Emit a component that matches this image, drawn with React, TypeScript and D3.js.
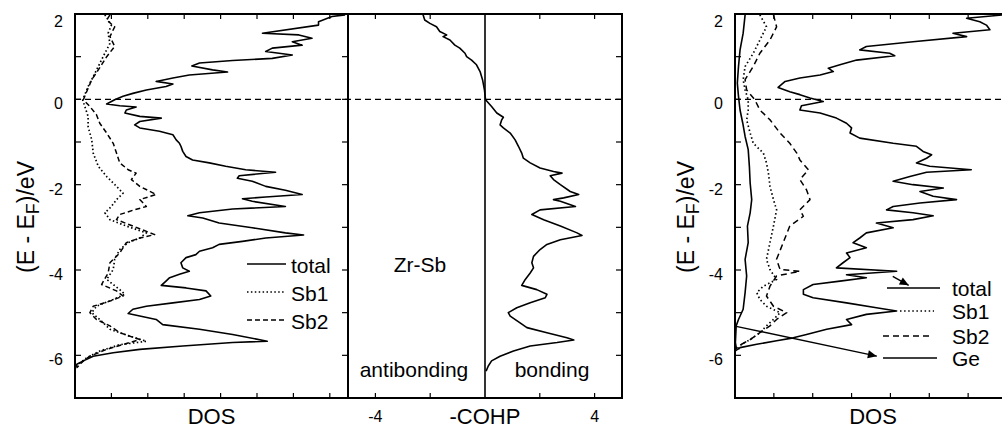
import React, { useEffect, useRef } from 'react';
import * as d3 from 'd3';

// every point is [E - EF (eV), value]
type Pt = [number, number];

const leftTotal: Pt[] = [
  [1.98, 7.42], [1.94, 7.06], [1.82, 6.69], [1.74, 6.69], [1.55, 5.15], [1.51, 6.15], [1.43, 6.51],
  [1.35, 5.97], [1.27, 6.24], [1.2, 5.42], [1.12, 5.24], [1.04, 5.97], [0.96, 5.42], [0.91, 4.33],
  [0.85, 3.42], [0.78, 3.21], [0.69, 3.78], [0.64, 4.19], [0.57, 3.14], [0.5, 2.69], [0.42, 2.23],
  [0.36, 2.69], [0.3, 2.5], [0.22, 1.96], [0.14, 1.59], [0.07, 1.32], [-0.01, 1.09], [-0.11, 0.87],
  [-0.15, 1.23], [-0.18, 1.68], [-0.25, 1.41], [-0.32, 1.37], [-0.4, 1.78], [-0.44, 2.37], [-0.52, 1.78],
  [-0.6, 1.64], [-0.67, 1.78], [-0.75, 2.32], [-0.83, 2.69], [-0.95, 2.78], [-1.03, 2.87], [-1.1, 2.91],
  [-1.22, 2.96], [-1.34, 3.05], [-1.42, 3.23], [-1.49, 3.69], [-1.57, 4.14], [-1.65, 4.69], [-1.71, 5.51],
  [-1.79, 4.51], [-1.85, 4.46], [-1.92, 4.87], [-2.04, 5.24], [-2.13, 5.78], [-2.23, 6.24], [-2.29, 5.24],
  [-2.33, 4.6], [-2.39, 4.87], [-2.51, 5.78], [-2.57, 4.33], [-2.66, 3.42], [-2.73, 3.1], [-2.78, 3.51],
  [-2.9, 3.96], [-3.01, 4.87], [-3.13, 5.78], [-3.18, 6.28], [-3.25, 5.24], [-3.33, 4.6], [-3.4, 3.96],
  [-3.48, 3.78], [-3.56, 3.42], [-3.64, 3.32], [-3.71, 3.05], [-3.83, 2.91], [-3.95, 2.96], [-4.03, 3.14],
  [-4.1, 2.87], [-4.18, 2.6], [-4.26, 2.5], [-4.36, 2.37], [-4.42, 3.05], [-4.49, 3.6], [-4.61, 3.73],
  [-4.69, 3.42], [-4.77, 2.69], [-4.85, 1.96], [-4.92, 1.59], [-5.02, 1.46], [-5.08, 1.78], [-5.16, 2.23],
  [-5.28, 2.41], [-5.39, 3.42], [-5.51, 4.33], [-5.67, 5.28], [-5.7, 4.33], [-5.78, 2.96], [-5.86, 1.78],
  [-5.94, 1.05], [-6.02, 0.5], [-6.13, 0.23], [-6.21, 0.05], [-6.33, 0],
];

const leftSb1: Pt[] = [
  [1.98, 0.82], [1.74, 1.0], [1.55, 0.91], [1.31, 0.96], [1.08, 0.82], [0.77, 0.64], [0.53, 0.5],
  [0.3, 0.36], [0.11, 0.27], [-0.01, 0.21], [-0.17, 0.27], [-0.4, 0.36], [-0.64, 0.36], [-0.95, 0.46],
  [-1.26, 0.5], [-1.57, 0.64], [-1.81, 0.87], [-2.04, 1.14], [-2.2, 1.32], [-2.35, 1.14], [-2.51, 1.0],
  [-2.66, 0.82], [-2.82, 0.96], [-2.97, 1.41], [-3.13, 1.96], [-3.25, 1.78], [-3.36, 1.46], [-3.52, 1.23],
  [-3.75, 1.09], [-3.99, 1.05], [-4.22, 0.87], [-4.46, 1.23], [-4.57, 1.37], [-4.69, 1.05], [-4.85, 0.59],
  [-5.0, 0.46], [-5.16, 0.68], [-5.39, 0.96], [-5.55, 1.5], [-5.67, 1.96], [-5.75, 1.23], [-5.9, 0.68],
  [-6.06, 0.32], [-6.21, 0.09], [-6.33, 0],
];

const leftSb2: Pt[] = [
  [1.98, 0.96], [1.86, 0.87], [1.7, 1.09], [1.47, 0.96], [1.24, 1.09], [1.0, 0.87], [0.69, 0.64],
  [0.46, 0.46], [0.22, 0.34], [-0.01, 0.23], [-0.17, 0.41], [-0.36, 0.59], [-0.56, 0.68], [-0.79, 0.87],
  [-1.03, 1.05], [-1.26, 1.14], [-1.49, 1.23], [-1.65, 1.46], [-1.73, 1.68], [-1.88, 1.55], [-2.04, 1.78],
  [-2.23, 2.23], [-2.35, 1.78], [-2.51, 1.96], [-2.6, 1.59], [-2.7, 1.23], [-2.82, 1.14], [-2.97, 1.59],
  [-3.17, 2.19], [-3.25, 1.78], [-3.36, 1.41], [-3.6, 1.23], [-3.83, 0.96], [-4.07, 0.91], [-4.34, 0.73],
  [-4.49, 1.14], [-4.61, 1.32], [-4.73, 0.96], [-4.85, 0.5], [-5.0, 0.41], [-5.16, 0.59], [-5.31, 0.96],
  [-5.47, 1.23], [-5.63, 1.78], [-5.7, 1.5], [-5.86, 0.87], [-6.02, 0.41], [-6.13, 0.23], [-6.29, 0.05],
];

const cohpZrSb: Pt[] = [
  [1.98, -2.26], [1.86, -2.2], [1.78, -2.01], [1.7, -1.77], [1.59, -1.65], [1.51, -1.4], [1.47, -1.53],
  [1.39, -1.28], [1.27, -1.1], [1.2, -0.92], [1.08, -0.73], [1.0, -0.67], [0.92, -0.49], [0.81, -0.31],
  [0.65, -0.18], [0.46, -0.09], [0.22, -0.02], [-0.01, 0.02], [-0.17, 0.24], [-0.32, 0.43], [-0.42, 0.67],
  [-0.48, 0.61], [-0.6, 0.55], [-0.67, 0.67], [-0.79, 0.92], [-0.95, 1.1], [-1.1, 1.22], [-1.26, 1.34],
  [-1.38, 1.4], [-1.49, 1.65], [-1.61, 2.01], [-1.69, 2.5], [-1.73, 2.81], [-1.79, 2.38], [-1.88, 2.5],
  [-2.0, 2.75], [-2.16, 3.11], [-2.23, 3.42], [-2.31, 2.87], [-2.35, 2.5], [-2.39, 2.75], [-2.51, 3.3],
  [-2.59, 2.01], [-2.7, 1.71], [-2.82, 2.14], [-2.97, 2.75], [-3.13, 3.36], [-3.19, 3.54], [-3.29, 2.75],
  [-3.4, 2.26], [-3.52, 2.01], [-3.68, 1.77], [-3.83, 1.71], [-3.95, 1.77], [-4.07, 1.65], [-4.22, 1.47],
  [-4.36, 1.34], [-4.46, 1.89], [-4.57, 2.26], [-4.65, 2.2], [-4.77, 1.65], [-4.885, 1.16], [-5.0, 0.85],
  [-5.08, 0.92], [-5.24, 1.28], [-5.35, 1.53], [-5.47, 2.26], [-5.59, 2.99], [-5.64, 3.24], [-5.7, 2.63],
  [-5.78, 1.65], [-5.9, 1.04], [-6.02, 0.55], [-6.13, 0.24], [-6.25, 0.12], [-6.37, 0.04],
];

const rightTotal: Pt[] = [
  [1.98, 6.9], [1.9, 5.96], [1.82, 6.3], [1.74, 6.47], [1.63, 6.56], [1.55, 5.61], [1.47, 5.96],
  [1.35, 4.58], [1.24, 3.38], [1.16, 3.21], [1.08, 3.98], [1.02, 4.11], [0.92, 3.13], [0.81, 2.7],
  [0.73, 2.4], [0.65, 2.53], [0.57, 2.19], [0.5, 1.67], [0.42, 1.29], [0.28, 1.11], [0.18, 1.41],
  [0.11, 1.67], [0.03, 1.93], [-0.05, 2.27], [-0.15, 1.71], [-0.25, 1.67], [-0.32, 2.19], [-0.44, 2.61],
  [-0.56, 2.87], [-0.67, 3.0], [-0.79, 2.96], [-0.91, 3.21], [-1.03, 4.07], [-1.1, 4.67], [-1.22, 4.84],
  [-1.3, 5.06], [-1.38, 4.93], [-1.49, 4.67], [-1.57, 5.01], [-1.65, 6.08], [-1.71, 4.93], [-1.81, 4.5],
  [-1.92, 4.07], [-2.0, 4.58], [-2.08, 5.36], [-2.16, 4.76], [-2.27, 5.1], [-2.35, 5.7], [-2.43, 4.76],
  [-2.51, 4.07], [-2.59, 3.9], [-2.66, 4.58], [-2.73, 5.1], [-2.82, 4.58], [-2.9, 3.64], [-3.01, 4.07],
  [-3.13, 3.38], [-3.25, 3.21], [-3.36, 3.04], [-3.48, 3.38], [-3.6, 2.87], [-3.71, 2.96], [-3.83, 2.78],
  [-3.95, 2.61], [-4.03, 4.16], [-4.11, 2.87], [-4.18, 3.38], [-4.26, 2.7], [-4.34, 2.01], [-4.46, 1.76],
  [-4.57, 1.76], [-4.65, 2.01], [-4.77, 2.87], [-4.885, 3.64], [-4.96, 4.16], [-5.04, 3.38], [-5.16, 2.87],
  [-5.28, 3.0], [-5.39, 2.36], [-5.51, 1.84], [-5.59, 1.5], [-5.66, 1.07], [-5.74, 0.56], [-5.82, 0.13],
  [-5.9, 0],
];

const rightSb1: Pt[] = [
  [1.98, 0.64], [1.7, 0.81], [1.39, 0.64], [1.08, 0.47], [0.77, 0.26], [0.46, 0.21], [0.22, 0.26],
  [-0.01, 0.34], [-0.25, 0.34], [-0.48, 0.3], [-0.79, 0.39], [-1.03, 0.47], [-1.26, 0.73], [-1.49, 0.81],
  [-1.73, 0.86], [-2.04, 0.9], [-2.35, 0.99], [-2.59, 1.07], [-2.97, 0.99], [-3.36, 0.9], [-3.75, 0.81],
  [-3.99, 0.9], [-4.22, 1.07], [-4.38, 0.73], [-4.53, 0.56], [-4.69, 0.64], [-4.85, 0.81], [-5.0, 1.16],
  [-5.16, 0.99], [-5.31, 0.81], [-5.47, 0.64], [-5.63, 0.39], [-5.74, 0.17], [-5.86, 0.04],
];

const rightSb2: Pt[] = [
  [1.98, 0.99], [1.7, 1.07], [1.39, 0.9], [1.08, 0.64], [0.77, 0.47], [0.46, 0.26], [0.22, 0.3],
  [-0.01, 0.51], [-0.25, 0.64], [-0.48, 0.9], [-0.79, 1.16], [-1.03, 1.41], [-1.26, 1.59], [-1.42, 1.67],
  [-1.65, 1.89], [-1.88, 1.67], [-2.12, 1.84], [-2.35, 1.93], [-2.59, 1.67], [-2.74, 1.76], [-2.97, 1.41],
  [-3.36, 1.24], [-3.75, 1.07], [-3.99, 1.16], [-4.03, 1.67], [-4.14, 1.07], [-4.38, 0.9], [-4.61, 0.81],
  [-4.85, 0.99], [-5.0, 1.33], [-5.16, 1.07], [-5.31, 0.9], [-5.47, 0.64], [-5.63, 0.39], [-5.74, 0.17],
  [-5.86, 0.09],
];

const rightGe: Pt[] = [
  [1.98, 0.26], [1.55, 0.21], [1.16, 0.13], [0.77, 0.09], [0.38, 0.06], [0.07, 0.09], [-0.25, 0.13],
  [-0.56, 0.2], [-0.87, 0.26], [-1.18, 0.34], [-1.57, 0.37], [-1.96, 0.39], [-2.35, 0.43], [-2.66, 0.39],
  [-2.97, 0.32], [-3.36, 0.34], [-3.75, 0.26], [-4.14, 0.3], [-4.53, 0.26], [-4.92, 0.21], [-5.16, 0.09],
  [-5.31, 0.03], [-5.7, 0.01], [-5.86, 0.04],
];

// annotation arrows in the right panel: [E, DOS] start -> end
const arrowsRight: [Pt, Pt][] = [
  [[-4.15, 4.06], [-4.36, 4.47]],
  [[-5.32, 0.03], [-6.02, 3.65]],
];

const energyTicks = [-6, -5, -4, -3, -2, -1, 0, 1];
const energyLabels = [2, 0, -2, -4, -6];
const dosTicksLeft = [1, 2, 3, 4, 5, 6, 7];
const dosTicksRight = [1, 2, 3, 4, 5, 6];
const cohpTicks = [-4, -2, 2, 4];
const cohpLabels = [-4, 4];

const FONT = 'Arial, "Liberation Sans", Helvetica, sans-serif';

const App = () => {
  const ref = useRef<SVGSVGElement>(null);

  useEffect(() => {
    const svg = d3.select(ref.current);
    svg.selectAll('*').remove();

    const top = 14;
    const bottom = 398;
    const y = d3.scaleLinear().domain([-7, 2]).range([bottom, top]);
    const xL = d3.scaleLinear().domain([0, 7.5]).range([75, 348]);
    const xM = d3.scaleLinear().domain([-5, 5]).range([348, 622]);
    const xR = d3.scaleLinear().domain([0, 7]).range([735, 1007]);

    svg.append('defs')
      .append('marker')
      .attr('id', 'arrowhead')
      .attr('viewBox', '0 0 10 10')
      .attr('refX', 10)
      .attr('refY', 5)
      .attr('markerWidth', 10)
      .attr('markerHeight', 9)
      .attr('markerUnits', 'userSpaceOnUse')
      .attr('orient', 'auto')
      .append('path')
      .attr('d', 'M0,0.5L10,5L0,9.5Z')
      .attr('fill', '#000');

    const frame = (x: d3.ScaleLinear<number, number>, xticks: number[], leftTicks: boolean, rightTicks: boolean) => {
      const [x0, x1] = x.range();
      const g = svg.append('g');
      g.append('rect')
        .attr('x', x0).attr('y', top)
        .attr('width', x1 - x0).attr('height', bottom - top)
        .attr('fill', 'none').attr('stroke', '#000').attr('stroke-width', 2);
      xticks.forEach(t => {
        g.append('line').attr('x1', x(t)).attr('x2', x(t)).attr('y1', bottom).attr('y2', bottom - 5)
          .attr('stroke', '#000').attr('stroke-width', 1.2);
        g.append('line').attr('x1', x(t)).attr('x2', x(t)).attr('y1', top).attr('y2', top + 5)
          .attr('stroke', '#000').attr('stroke-width', 1.2);
      });
      energyTicks.forEach(t => {
        if (leftTicks) g.append('line').attr('x1', x0).attr('x2', x0 + 6).attr('y1', y(t)).attr('y2', y(t))
          .attr('stroke', '#000').attr('stroke-width', 1.2);
        if (rightTicks) g.append('line').attr('x1', x1).attr('x2', x1 - 6).attr('y1', y(t)).attr('y2', y(t))
          .attr('stroke', '#000').attr('stroke-width', 1.2);
      });
    };

    frame(xL, dosTicksLeft, true, true);
    frame(xM, cohpTicks, false, true);
    frame(xR, dosTicksRight, true, false);

    // Fermi level
    [[75, 622], [735, 1002]].forEach(([a, b]) => {
      svg.append('line').attr('x1', a).attr('x2', b).attr('y1', y(0)).attr('y2', y(0))
        .attr('stroke', '#000').attr('stroke-width', 1.3).attr('stroke-dasharray', '6,4');
    });
    svg.append('line').attr('x1', xM(0)).attr('x2', xM(0)).attr('y1', top).attr('y2', bottom)
      .attr('stroke', '#000').attr('stroke-width', 1.6);

    const curve = (x: d3.ScaleLinear<number, number>, data: Pt[], dash: string | null, width = 1.5) => {
      const line = d3.line<Pt>().x(d => x(d[1])).y(d => y(d[0]));
      svg.append('path')
        .attr('d', line(data))
        .attr('fill', 'none')
        .attr('stroke', '#000')
        .attr('stroke-width', width)
        .attr('stroke-linejoin', 'round')
        .attr('stroke-dasharray', dash);
    };

    curve(xL, leftSb1, '1.5,2.4', 1.7);
    curve(xL, leftSb2, '5,3');
    curve(xL, leftTotal, null, 1.6);
    curve(xM, cohpZrSb, null, 1.6);
    curve(xR, rightGe, null, 1.6);
    curve(xR, rightSb1, '1.5,2.6', 1.7);
    curve(xR, rightSb2, '6,4');
    curve(xR, rightTotal, null, 1.6);

    arrowsRight.forEach(([s, e]) => {
      svg.append('line')
        .attr('x1', xR(s[1])).attr('y1', y(s[0]))
        .attr('x2', xR(e[1])).attr('y2', y(e[0]))
        .attr('stroke', '#000').attr('stroke-width', 1.4)
        .attr('marker-end', 'url(#arrowhead)');
    });

    const text = (x: number, yy: number, s: string, size: number, anchor = 'middle') =>
      svg.append('text')
        .attr('x', x).attr('y', yy)
        .attr('text-anchor', anchor)
        .style('font-family', FONT)
        .style('font-size', `${size}px`)
        .text(s);

    // energy tick labels
    [63, 723].forEach(xx => {
      energyLabels.forEach(v => {
        const yy = v === 2 ? y(v) + 13 : y(v) + 10;
        text(xx, yy, String(v), 16, 'end');
      });
    });
    cohpLabels.forEach(v => text(xM(v), 422, String(v), 16));

    // axis titles
    text(xL(3.75), 424, 'DOS', 22);
    text(873, 424, 'DOS', 22);
    text(xM(0), 424, '-COHP', 22);
    [26, 686].forEach(xx => {
      const t = svg.append('text')
        .attr('transform', `translate(${xx},217) rotate(-90)`)
        .attr('text-anchor', 'middle')
        .attr('dy', '0.35em')
        .style('font-family', FONT)
        .style('font-size', '23px');
      t.append('tspan').text('(E - E');
      t.append('tspan').attr('dy', 5).style('font-size', '18px').text('F');
      t.append('tspan').attr('dy', -5).text(')/eV');
    });

    text(420, 272, 'Zr-Sb', 21);
    text(414, 377, 'antibonding', 21);
    text(552, 377, 'bonding', 21);

    // legends
    const legendLeft: [string, string | null, number][] = [
      ['total', null, 264],
      ['Sb1', '1.5,2.4', 292],
      ['Sb2', '5,3', 320],
    ];
    legendLeft.forEach(([name, dash, yy]) => {
      svg.append('line').attr('x1', 247).attr('x2', 286).attr('y1', yy).attr('y2', yy)
        .attr('stroke', '#000').attr('stroke-width', dash && dash.startsWith('1.5') ? 1.7 : 1.5)
        .attr('stroke-dasharray', dash);
      text(291, yy + 9, name, 21, 'start');
    });

    const legendRight: [string, string | null, number, number, number][] = [
      ['total', null, 288, 887, 940],
      ['Sb1', '1.5,2.6', 311, 900, 934],
      ['Sb2', '6,4', 336, 883, 931],
      ['Ge', null, 358, 883, 937],
    ];
    legendRight.forEach(([name, dash, yy, a, b]) => {
      svg.append('line').attr('x1', a).attr('x2', b).attr('y1', yy).attr('y2', yy)
        .attr('stroke', '#000').attr('stroke-width', dash && dash.startsWith('1.5') ? 1.7 : 1.5)
        .attr('stroke-dasharray', dash);
      text(952, yy + 8, name, 21, 'start');
    });
  }, []);

  return (
    <svg
      ref={ref}
      width={1002}
      height={428}
      style={{ position: 'absolute', left: 0, top: 0, background: '#fff' }}
    />
  );
};

export default App;
